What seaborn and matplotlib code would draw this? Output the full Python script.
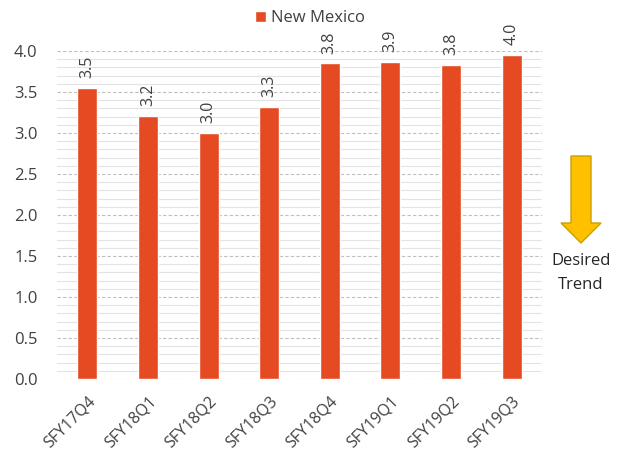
import matplotlib
matplotlib.use("Agg")
import matplotlib.pyplot as plt
from matplotlib.ticker import MultipleLocator
from matplotlib.patches import Polygon
import seaborn as sns
import pandas as pd

categories = ["SFY17Q4", "SFY18Q1", "SFY18Q2", "SFY18Q3", "SFY18Q4", "SFY19Q1", "SFY19Q2", "SFY19Q3"]
values = [3.55, 3.21, 3.0, 3.32, 3.85, 3.87, 3.83, 3.95]
value_labels = ["3.5", "3.2", "3.0", "3.3", "3.8", "3.9", "3.8", "4.0"]
series_name = "New Mexico"

sns.set_theme(style="white")
plt.rcParams["font.family"] = ["Open Sans", "DejaVu Sans"]

W, H = 629, 453
fig = plt.figure(figsize=(W / 100, H / 100), dpi=100)
ax = fig.add_axes([57 / W, 1 - 379 / H, (542 - 57) / W, (379 - 51) / H])

df = pd.DataFrame({"quarter": categories, "value": values})
bar_color = "#E64A22"
sns.barplot(data=df, x="quarter", y="value", color=bar_color, saturation=1,
            width=0.33, label=series_name, ax=ax)

ax.set_ylim(0, 4)
ax.set_xlim(-0.5, 7.5)
ax.yaxis.set_major_locator(MultipleLocator(0.5))
ax.yaxis.set_minor_locator(MultipleLocator(0.1))
ax.yaxis.set_major_formatter(matplotlib.ticker.FormatStrFormatter("%.1f"))
ax.grid(False)
ax.grid(True, which="major", axis="y", color="#BFBFBF", linestyle=(0, (3, 2)), linewidth=0.8)
ax.grid(True, which="minor", axis="y", color="#E3E3E3", linestyle="-", linewidth=0.8)
ax.set_axisbelow(True)
for s in ax.spines.values():
    s.set_visible(False)
ax.tick_params(axis="both", which="both", length=0, colors="#404040")
ax.tick_params(axis="y", pad=14, labelsize=12)
ax.tick_params(axis="x", pad=10, labelsize=11.5)
ax.set_xlabel("")
ax.set_ylabel("")
plt.setp(ax.get_xticklabels(), rotation=45, ha="right", rotation_mode="anchor")

for i, (v, lab) in enumerate(zip(values, value_labels)):
    ax.annotate(lab, xy=(i, v), xytext=(0, 7), textcoords="offset points",
                rotation=90, ha="center", va="bottom", fontsize=11.5, color="#404040")

leg = ax.legend(loc="upper center", bbox_to_anchor=(310 / W, 1.01), bbox_transform=fig.transFigure,
                frameon=False, fontsize=12, handlelength=0.65, handleheight=0.65,
                handletextpad=0.35, labelcolor="#404040")

# Desired trend arrow (decoration)
def fx(x):
    return x / W

def fy(y):
    return 1 - y / H

pts = [(571, 156), (591, 156), (591, 223), (601, 223), (581, 243), (561, 223), (571, 223)]
arrow = Polygon([(fx(x), fy(y)) for x, y in pts], closed=True, transform=fig.transFigure,
                facecolor="#FFC000", edgecolor="#C9A000", linewidth=1.0)
fig.patches.append(arrow)
fig.text(fx(581), fy(261), "Desired", ha="center", va="center", fontsize=12, color="#262626")
fig.text(fx(581), fy(285), "Trend", ha="center", va="center", fontsize=12, color="#262626")

fig.savefig("out.png", dpi=100)
